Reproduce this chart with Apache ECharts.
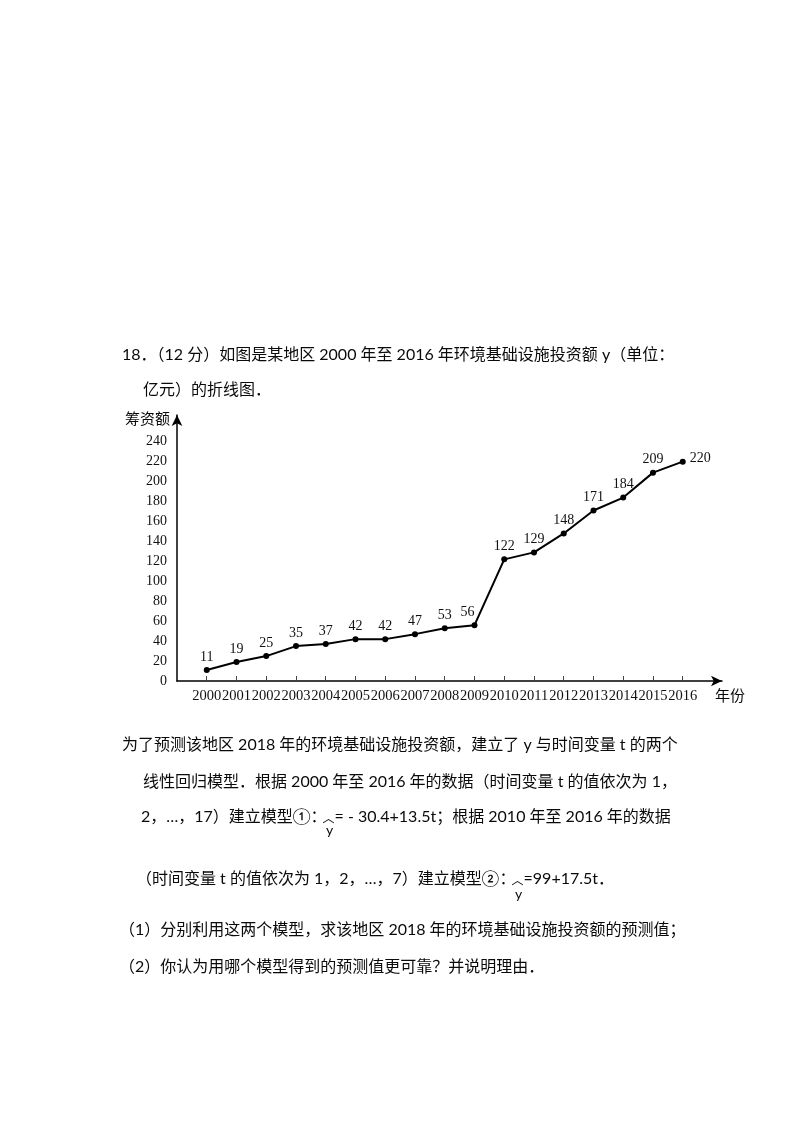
<!DOCTYPE html>
<html><head><meta charset="utf-8">
<script src="https://cdn.jsdelivr.net/npm/echarts@6/dist/echarts.min.js"></script>
<style>html,body{margin:0;padding:0;background:#fff}#c{width:800px;height:1133px}</style>
</head><body><div id="c"></div>
<script>
// ---- data ----
const years = [2000,2001,2002,2003,2004,2005,2006,2007,2008,2009,2010,2011,2012,2013,2014,2015,2016];
const values = [11,19,25,35,37,42,42,47,53,56,122,129,148,171,184,209,220];
const yTicks = [0,20,40,60,80,100,120,140,160,180,200,220,240];
const yAxisName = '筹资额';
const xAxisName = '年份';
const questionLines = [
  '18．（12 分）如图是某地区 2000 年至 2016 年环境基础设施投资额 y（单位：',
  '亿元）的折线图．',
  '为了预测该地区 2018 年的环境基础设施投资额，建立了 y 与时间变量 t 的两个',
  '线性回归模型．根据 2000 年至 2016 年的数据（时间变量 t 的值依次为 1，',
  '2，…，17）建立模型①：',
  '= - 30.4+13.5t；根据 2010 年至 2016 年的数据',
  '（时间变量 t 的值依次为 1，2，…，7）建立模型②：',
  '=99+17.5t．',
  '（1）分别利用这两个模型，求该地区 2018 年的环境基础设施投资额的预测值；',
  '（2）你认为用哪个模型得到的预测值更可靠？并说明理由．'
];
const hatChar = '︿';
const hatBase = 'y';

// ---- rendering ----
const TXT_SIZE = 16;
const TXT_FONT = 'Lato, "Noto Sans CJK SC", sans-serif';
const CJK_FONT = '"Noto Sans CJK SC", sans-serif';
const SERIF = '"Liberation Serif", "DejaVu Serif", serif';
const TXT_COLOR = '#0a0a0a';

const mctx = document.createElement('canvas').getContext('2d');
function measure(text) {
  mctx.font = TXT_SIZE + 'px ' + TXT_FONT;
  return mctx.measureText(text).width;
}

function txt(text, x, y) {
  return {
    type: 'text', x: x, y: y,
    style: { text: text, fontSize: TXT_SIZE, fontFamily: TXT_FONT, fill: TXT_COLOR, align: 'left', verticalAlign: 'middle' }
  };
}
function hat(x, y) {
  return { type: 'text', x: x, y: y, style: { text: hatChar, fontSize: 12, fontFamily: CJK_FONT, fill: TXT_COLOR, align: 'center', verticalAlign: 'middle' } };
}
function ybase(x, y) {
  return { type: 'text', x: x, y: y, style: { text: hatBase, fontSize: 14, fontFamily: TXT_FONT, fill: TXT_COLOR, align: 'center', verticalAlign: 'middle' } };
}
// a formula line: lead text, then y-hat, then the rest
function formulaLine(lead, rest, x, y, yOff) {
  const hx = x + measure(lead) + 2;
  return [
    txt(lead, x, y),
    hat(hx, y + 1),
    ybase(hx + 1, y + yOff),
    txt(rest, hx + 6, y)
  ];
}

const lineData = years.map((yr, i) => {
  const item = { value: [yr, values[i]] };
  if (i === years.length - 1) {
    item.label = { position: 'right', distance: 4, offset: [0, -3] };
  } else if (yr === 2009) {
    item.label = { offset: [-7, 0] };
  }
  return item;
});

const chart = echarts.init(document.getElementById('c'), null, { renderer: 'canvas' });
chart.setOption({
  backgroundColor: '#fff',
  animation: false,
  grid: { left: 177, right: 78, top: 415, bottom: 452, containLabel: false },
  xAxis: {
    type: 'value', min: 1999, max: 2017.32,
    name: xAxisName, nameLocation: 'end', nameGap: -7,
    nameTextStyle: { align: 'left', verticalAlign: 'top', padding: [7, 0, 0, 0], fontSize: 15, fontFamily: CJK_FONT, color: TXT_COLOR },
    axisLine: { show: true, onZero: false, symbol: ['none', 'arrow'], symbolSize: [8, 11], lineStyle: { color: '#000', width: 1.5 } },
    axisTick: { show: true, inside: true, length: 5, customValues: years, lineStyle: { color: '#444' } },
    axisLabel: { customValues: years, margin: 8, fontSize: 14.5, fontFamily: SERIF, color: '#111', formatter: v => String(v) },
    splitLine: { show: false }
  },
  yAxis: {
    type: 'value', min: 0, max: 266.8,
    name: yAxisName, nameLocation: 'end', nameGap: -3,
    nameTextStyle: { align: 'right', verticalAlign: 'middle', padding: [0, 7, 0, 0], fontSize: 15, fontFamily: CJK_FONT, color: TXT_COLOR },
    axisLine: { show: true, symbol: ['none', 'arrow'], symbolSize: [8, 11], lineStyle: { color: '#000', width: 1.5 } },
    axisTick: { show: false },
    axisLabel: { customValues: yTicks, margin: 10, fontSize: 14, fontFamily: SERIF, color: '#111' },
    splitLine: { show: false }
  },
  series: [{
    type: 'line',
    data: lineData,
    symbol: 'circle', symbolSize: 6,
    lineStyle: { color: '#000', width: 2 },
    itemStyle: { color: '#000' },
    label: { show: true, position: 'top', distance: 3, fontSize: 14, fontFamily: SERIF, color: '#111',
             formatter: p => String(p.value[1]) }
  }],
  graphic: [
    txt(questionLines[0], 122, 355),
    txt(questionLines[1], 143, 390),
    txt(questionLines[2], 122, 745),
    txt(questionLines[3], 143, 782),
    ...formulaLine(questionLines[4], questionLines[5], 141, 817, 13),
    ...formulaLine(questionLines[6], questionLines[7], 136, 879, 15),
    txt(questionLines[8], 119, 930),
    txt(questionLines[9], 119, 967)
  ]
});
</script></body></html>
